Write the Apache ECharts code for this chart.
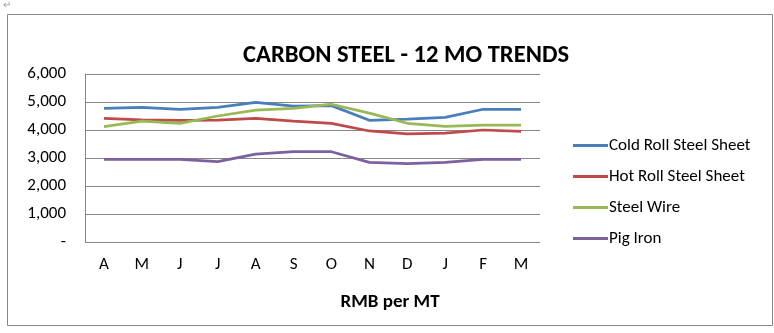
<!DOCTYPE html>
<html><head><meta charset="utf-8">
<script src="https://cdn.jsdelivr.net/npm/echarts@6/dist/echarts.min.js"></script>
<style>html,body{margin:0;padding:0;background:#fff}#c{width:774px;height:333px}</style>
</head><body><div id="c"></div>
<script>
const categories = ['A','M','J','J','A','S','O','N','D','J','F','M'];
const coldRoll = [4775,4810,4740,4810,4990,4850,4870,4345,4390,4450,4740,4740];
const hotRoll  = [4415,4360,4345,4350,4415,4320,4240,3965,3860,3890,4000,3950];
const steelWire= [4120,4320,4240,4500,4710,4775,4920,4600,4240,4130,4170,4170];
const pigIron  = [2950,2950,2950,2870,3140,3225,3225,2845,2800,2845,2950,2950];
const seriesNames = ['Cold Roll Steel Sheet','Hot Roll Steel Sheet','Steel Wire','Pig Iron'];
const colors = ['#4A7EBB','#BE4B48','#98B954','#7D60A0'];
const data = [coldRoll, hotRoll, steelWire, pigIron];
const font = 'Calibri, Carlito, "Open Sans", "Liberation Sans", sans-serif';

const chart = echarts.init(document.getElementById('c'));
chart.setOption({
  animation:false,
  color: colors,
  title:[{text:'CARBON STEEL - 12 MO TRENDS', left:401, top:38, textAlign:'center',
    textStyle:{fontFamily:font, fontWeight:'bold', fontSize:24.6, color:'#000'}},
    {text:'RMB per MT', left:385, top:288, textAlign:'center',
    textStyle:{fontFamily:font, fontWeight:'bold', fontSize:19, color:'#000'}}],
  graphic:[
    {type:'rect', shape:{x:7.5,y:14.5,width:765,height:311}, style:{fill:'none', stroke:'#868686', lineWidth:1}, silent:true},
    {type:'text', left:3, top:0, style:{text:'↵', fill:'#999', fontSize:10}}
  ],
  legend:{
    orient:'vertical', left:568, top:132, itemGap:14, itemWidth:35, itemHeight:3,
    icon:'rect', data: seriesNames,
    textStyle:{fontFamily:font, fontSize:17, color:'#000', padding:[0,0,0,-4]}
  },
  grid:{left:85, right:234, top:74, bottom:91, containLabel:false},
  xAxis:{type:'category', data:categories, boundaryGap:true,
    axisLine:{show:false}, axisTick:{show:false},
    axisLabel:{fontFamily:font, fontSize:17, color:'#000', margin:14}},
  yAxis:{type:'value', min:0, max:6000, interval:1000,
    axisLine:{show:true, lineStyle:{color:'#868686'}}, axisTick:{show:false},
    splitLine:{lineStyle:{color:'#868686', width:1}},
    axisLabel:{fontFamily:font, fontSize:17, color:'#000', margin:19,
      formatter:v => v===0 ? '-' : v.toLocaleString('en-US')}},
  series: seriesNames.map((n,i)=>({name:n, type:'line', data:data[i], symbol:'none',
    lineStyle:{width:2.75, color:colors[i]}, itemStyle:{color:colors[i]}}))
});
</script></body></html>
